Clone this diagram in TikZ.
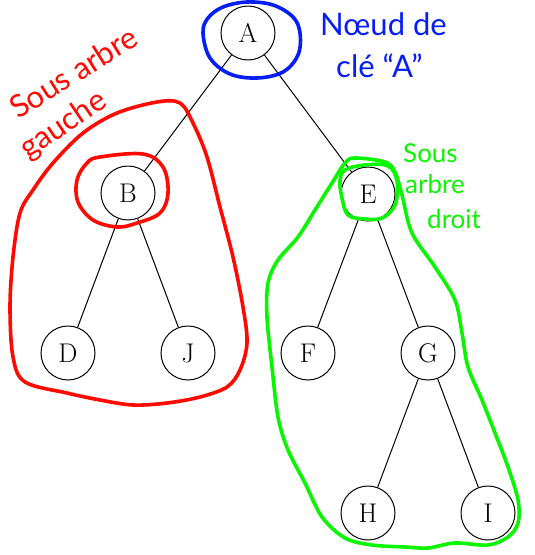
\documentclass[tikz,border=0pt]{standalone}
\usepackage{fontspec}
\newfontfamily\hand{Lato}
\definecolor{hred}{RGB}{255,10,0}
\definecolor{hblue}{RGB}{5,30,245}
\definecolor{hgreen}{RGB}{10,245,0}
\begin{document}
\begin{tikzpicture}[x=1pt,y=-1pt,
  tnode/.style={circle,draw,line width=1pt,minimum size=54pt,inner sep=0pt,font=\fontsize{27}{30}\selectfont},
  edge/.style={line width=1pt},
  hline/.style={line width=3.6pt,line join=round,line cap=round},
  note/.style={inner sep=0pt,align=left}]
\useasboundingbox (0,0) rectangle (535,555);
\node[tnode] (A) at (248,33) {A};
\node[tnode] (B) at (128,193) {B};
\node[tnode] (E) at (368,194) {E};
\node[tnode] (D) at (68,353) {D};
\node[tnode] (J) at (188,353) {J};
\node[tnode] (F) at (308,353) {F};
\node[tnode] (G) at (428,353) {G};
\node[tnode] (H) at (368,513) {H};
\node[tnode] (I) at (488,513) {I};
\draw[edge] (A) -- (B);
\draw[edge] (A) -- (E);
\draw[edge] (B) -- (D);
\draw[edge] (B) -- (J);
\draw[edge] (E) -- (F);
\draw[edge] (E) -- (G);
\draw[edge] (G) -- (H);
\draw[edge] (G) -- (I);
% blue
\draw[hline,hblue] plot[smooth cycle,tension=0.6] coordinates {(203,33) (210,58) (230,74) (257,78) (283,72) (298,55) (300,33) (293,17) (273,5) (247,2) (223,7) (208,18)};
% red big
\draw[hline,hred] plot[smooth cycle,tension=0.55] coordinates {(157,102) (180,103) (193,123) (207,157) (220,207) (233,257) (243,307) (247,343) (240,370) (227,387) (200,397) (167,403) (133,405) (100,400) (67,393) (25,382) (13,357) (10,307) (13,257) (20,213) (33,190) (53,163) (83,133) (117,113)};
% red small
\draw[hline,hred] plot[smooth cycle,tension=0.6] coordinates {(100,157) (143,154) (163,167) (168,193) (160,213) (137,223) (117,227) (93,220) (78,202) (77,180) (87,163)};
% green big
\draw[hline,hgreen] plot[smooth cycle,tension=0.55] coordinates {(355,158) (385,162) (395,172) (402,195) (412,233) (435,267) (455,300) (462,333) (468,367) (482,400) (495,433) (508,467) (518,500) (518,523) (508,537) (488,545) (455,543) (428,548) (405,547) (372,545) (345,538) (322,517) (305,483) (288,450) (278,417) (272,367) (267,317) (268,283) (278,260) (298,237) (315,210) (332,183) (345,163)};
% green small
\draw[hline,hgreen] plot[smooth cycle,tension=0.6] coordinates {(345,170) (365,165) (388,166) (397,181) (395,205) (382,218) (365,219) (348,215) (342,198) (340,181)};
% texts
\node[note,hred,rotate=32,anchor=base west,font=\hand\fontsize{31}{34}\selectfont] (t1) at (18,120) {Sous arbre};
\node[note,hred,rotate=34,anchor=base west,font=\hand\fontsize{31}{34}\selectfont] (t2) at (28,160) {gauche};
\node[note,hblue,anchor=base west,font=\hand\fontsize{31}{34}\selectfont] (t3) at (320,35) {Nœud de};
\node[note,hblue,anchor=base west,font=\hand\fontsize{31}{34}\selectfont] (t4) at (336,77) {clé “A”};
\node[note,hgreen,anchor=base west,font=\hand\fontsize{26}{28}\selectfont] (t5) at (403,162) {Sous};
\node[note,hgreen,anchor=base west,font=\hand\fontsize{26}{28}\selectfont] (t6) at (405,193) {arbre};
\node[note,hgreen,anchor=base west,font=\hand\fontsize{26}{28}\selectfont] (t7) at (427,228) {droit};
\end{tikzpicture}
\end{document}
